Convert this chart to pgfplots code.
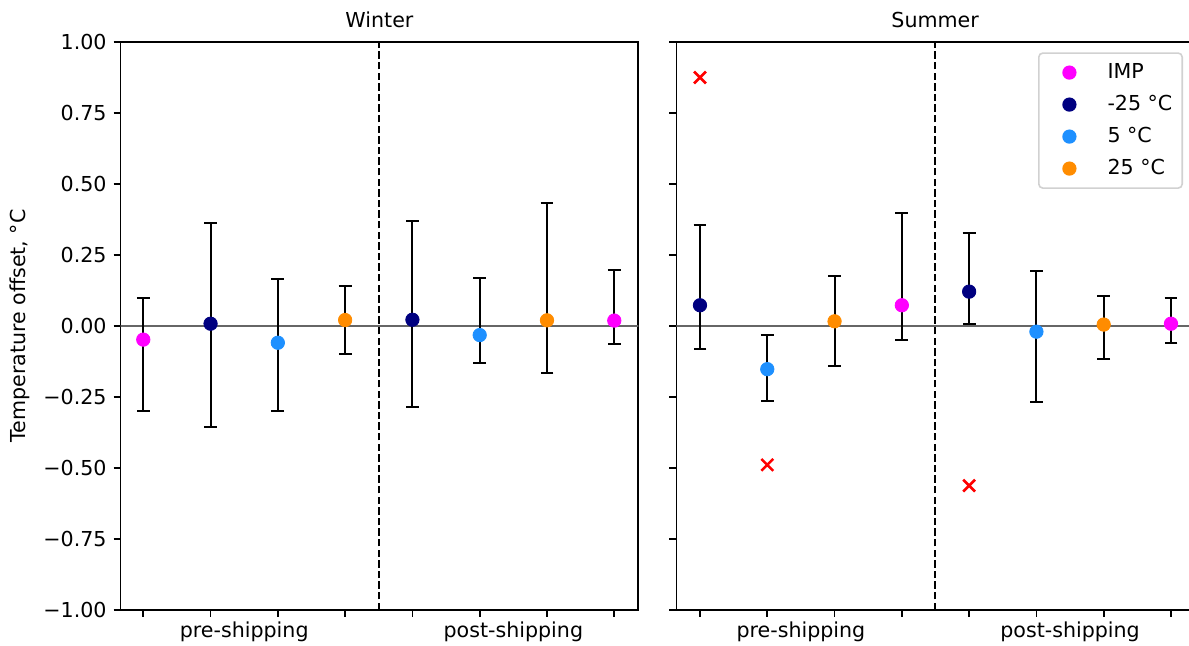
\documentclass[border=0pt]{standalone}
\usepackage{fontspec}
\setmainfont{DejaVu Sans}
\usepackage{pgfplots}
\pgfplotsset{compat=1.18}
\definecolor{cIMP}{HTML}{FF00FF}
\definecolor{cmtf}{HTML}{000080}
\definecolor{cfive}{HTML}{1E90FF}
\definecolor{ctf}{HTML}{FF8C00}
\definecolor{cx}{HTML}{FF0000}
\pgfplotsset{
 panel/.style={
  scale only axis, height=284pt, ymin=-1, ymax=1,
  ytick={-1,-0.75,-0.5,-0.25,0,0.25,0.5,0.75,1},
  xtick={0,1,2,3,4,5,6,7}, xticklabels={},
  extra x ticks={1.5,5.5}, extra x tick labels={pre-shipping,post-shipping},
  extra x tick style={major tick length=0pt, xticklabel style={yshift=-2.5pt}},
  tick align=outside, xtick pos=lower, ytick pos=left,
  major tick length=3.5pt,
  axis line style={line width=0.8pt, black},
  every tick/.style={line width=0.8pt, black},
  font=\fontsize{10.3}{12.4}\selectfont,
  every axis title/.style={at={(0.5,1)}, anchor=base, yshift=7.25pt},
  anchor=south west,
 },
 errs/.style={forget plot, only marks, mark=none,
   error bars/.cd, y dir=both, y explicit, error mark=|,
   error bar style={black, line width=1pt},
   error mark options={black, mark size=3.2pt, line width=1pt}},
 dot/.style={only marks, mark=*, mark size=3.35pt, color=#1, mark options={draw=none, fill=#1}},
 zline/.style={forget plot, black!60, line width=0.8pt},
 vline/.style={forget plot, black, line width=1pt, dash pattern=on 3.7pt off 1.6pt},
}
\begin{document}
\begin{tikzpicture}
% ---------------- Winter ----------------
\begin{axis}[panel, at={(0pt,0pt)}, width=258.85pt, xmin=-0.337, xmax=7.357,
  title={Winter},
  yticklabels={−1.00,−0.75,−0.50,−0.25,0.00,0.25,0.50,0.75,1.00},
  ylabel={Temperature offset, °C},
  ylabel style={at={(axis description cs:-0.1943,0.5)}, anchor=center},
]
\addplot[zline] coordinates {(-1,0) (8,0)};
\addplot[vline] coordinates {(3.5,-1) (3.5,1)};
\addplot[errs] coordinates {
 (0,-0.048) += (0,0.147) -= (0,0.252)
 (1,0.008) += (0,0.356) -= (0,0.362)
 (2,-0.059) += (0,0.226) -= (0,0.239)
 (3,0.021) += (0,0.119) -= (0,0.118)
 (4,0.022) += (0,0.348) -= (0,0.307)
 (5,-0.032) += (0,0.200) -= (0,0.099)
 (6,0.020) += (0,0.414) -= (0,0.184)
 (7,0.019) += (0,0.178) -= (0,0.081)
};
\addplot[dot=cIMP] coordinates {(0,-0.048) (7,0.019)};
\addplot[dot=cmtf] coordinates {(1,0.008) (4,0.022)};
\addplot[dot=cfive] coordinates {(2,-0.059) (5,-0.032)};
\addplot[dot=ctf] coordinates {(3,0.021) (6,0.020)};
\end{axis}
% ---------------- Summer ----------------
\begin{axis}[panel, at={(277.85pt,0pt)}, width=258.85pt, xmin=-0.352, xmax=7.342,
  title={Summer},
  yticklabels={},
  legend style={at={(rel axis cs:1,1)}, anchor=north east, xshift=-5.5pt, yshift=-5.15pt,
    draw=black!18, rounded corners=2pt, fill=white, line width=0.8pt,
    inner xsep=4.9pt, inner ysep=4.75pt, row sep=6pt, column sep=15.9pt,
    nodes={inner sep=0pt, text height=8pt, text depth=2pt, anchor=west},
    font=\fontsize{10.3}{12.4}\selectfont},
  legend image code/.code={\path[draw=none,fill=none] (-10.4pt,0pt) -- (0pt,0pt); \draw[#1, mark size=3.15pt] plot coordinates {(0pt,0pt)};},
]
\addplot[zline] coordinates {(-1,0) (8,0)};
\addplot[vline] coordinates {(3.5,-1) (3.5,1)};
\addplot[errs] coordinates {
 (0,0.073) += (0,0.284) -= (0,0.153)
 (1,-0.152) += (0,0.122) -= (0,0.111)
 (2,0.0165) += (0,0.160) -= (0,0.158)
 (3,0.073) += (0,0.326) -= (0,0.122)
 (4,0.121) += (0,0.208) -= (0,0.114)
 (5,-0.020) += (0,0.214) -= (0,0.246)
 (6,0.005) += (0,0.100) -= (0,0.122)
 (7,0.008) += (0,0.091) -= (0,0.069)
};
\addplot[dot=cIMP] coordinates {(3,0.073) (7,0.008)};
\addlegendentry{IMP}
\addplot[dot=cmtf] coordinates {(0,0.073) (4,0.121)};
\addlegendentry{-25 °C}
\addplot[dot=cfive] coordinates {(1,-0.152) (5,-0.020)};
\addlegendentry{5 °C}
\addplot[dot=ctf] coordinates {(2,0.0165) (6,0.005)};
\addlegendentry{25 °C}
\addplot[forget plot, only marks, mark=x, mark size=4.2pt, color=cx, mark options={line width=1.3pt}] coordinates {(0,0.875) (1,-0.489) (4,-0.562)};
\end{axis}
\pgfresetboundingbox
\useasboundingbox (-60.3pt,-18pt) rectangle (534.2pt,305pt);
\end{tikzpicture}
\end{document}
